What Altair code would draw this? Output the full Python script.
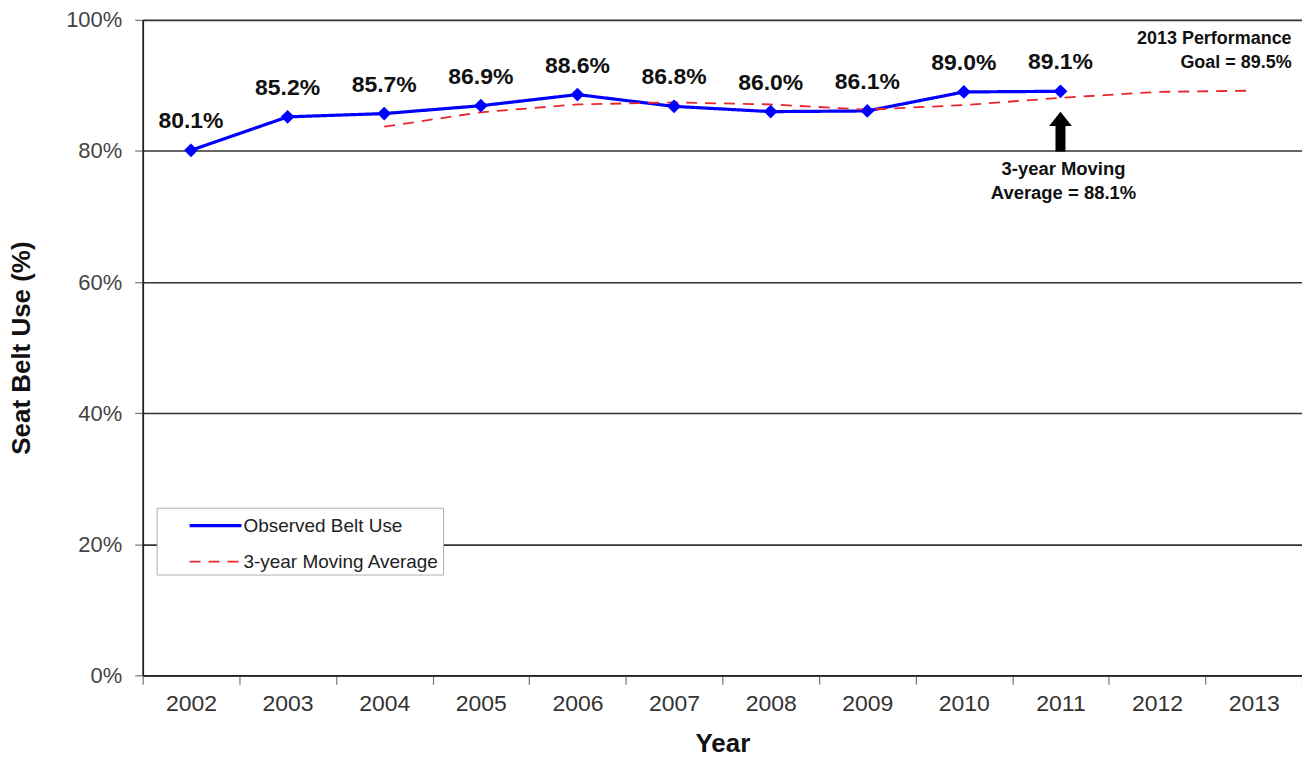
import altair as alt
import pandas as pd

years = ["2002", "2003", "2004", "2005", "2006", "2007", "2008", "2009", "2010", "2011", "2012", "2013"]
obs_years = years[:10]
observed = [80.1, 85.2, 85.7, 86.9, 88.6, 86.8, 86.0, 86.1, 89.0, 89.1]
ma_years = years[2:]
moving_avg = [83.7, 85.9, 87.1, 87.4, 87.1, 86.3, 87.0, 88.1, 89.0, 89.2]
series_names = ["Observed Belt Use", "3-year Moving Average"]
y_ticks = [0, 20, 40, 60, 80, 100]

obs_df = pd.DataFrame({"year": obs_years, "value": observed, "series": series_names[0]})
ma_df = pd.DataFrame({"year": ma_years, "value": moving_avg, "series": series_names[1]})
long_df = pd.concat([obs_df, ma_df], ignore_index=True)

FONT = "Liberation Sans"
BLUE = "#0000FF"
RED = "#E8262E"

x_enc = alt.X("year:O", scale=alt.Scale(type="band", domain=years, paddingInner=0, paddingOuter=0),
              bandPosition=0.5,
              axis=alt.Axis(title="Year", tickBand="extent", labelAngle=0, grid=False,
                            labelFont=FONT, labelFontSize=23, labelColor="#333",
                            labelPadding=8, tickSize=9, tickColor="#777", tickWidth=1.2,
                            domainColor="#222", domainWidth=1.8,
                            titleFont=FONT, titleFontSize=26, titleFontWeight="bold",
                            titleColor="#111", titlePadding=15))
y_scale = alt.Scale(domain=[0, 100], nice=False)
y_enc = alt.Y("value:Q", scale=y_scale,
              axis=alt.Axis(title="Seat Belt Use (%)", values=y_ticks, labelExpr="datum.value + '%'",
                            grid=True, gridColor="#333", gridWidth=1.6,
                            labelFont=FONT, labelFontSize=22, labelColor="#444", labelPadding=13,
                            tickSize=8, tickColor="#777", tickWidth=1.2,
                            domainColor="#222", domainWidth=1.8,
                            titleFont=FONT, titleFontSize=26, titleFontWeight="bold",
                            titleColor="#111", titlePadding=31))

legend_props = dict(orient="none", legendX=14, legendY=489, padding=3, rowPadding=12,
                    symbolType="M-2,0H2", symbolSize=676, symbolOffset=41, symbolStrokeWidth=2.5,
                    labelOffset=13, labelFont=FONT, labelFontSize=19, labelLimit=400,
                    labelColor="#222", strokeColor="#b0b0b0", fillColor="white", title=None)

base = alt.Chart(long_df)

lines = base.mark_line().encode(
    x=x_enc, y=y_enc,
    color=alt.Color("series:N", scale=alt.Scale(domain=series_names, range=[BLUE, RED]),
                    title=None, legend=alt.Legend(**legend_props)),
    strokeDash=alt.StrokeDash("series:N", scale=alt.Scale(domain=series_names, range=[[1, 0], [11, 8]]),
                              title=None, legend=alt.Legend(**legend_props)),
    strokeWidth=alt.StrokeWidth("series:N", scale=alt.Scale(domain=series_names, range=[3.2, 1.8]), legend=None),
)

points = alt.Chart(obs_df).mark_point(shape="diamond", filled=True, size=190, color=BLUE, opacity=1).encode(
    x=alt.X("year:O", bandPosition=0.5), y="value:Q")

labels = alt.Chart(obs_df).transform_calculate(
    label="format(datum.value, '.1f') + '%'"
).mark_text(font=FONT, fontSize=23, fontWeight="bold", color="#111", dy=-29).encode(
    x=alt.X("year:O", bandPosition=0.5), y="value:Q", text="label:N")

# arrow annotation
arrow_year = ["2011"]
arrow_df = pd.DataFrame({"year": arrow_year, "y0": [79.9], "y1": [84.0], "yh": [84.9]})
shaft = alt.Chart(arrow_df).mark_rule(color="black", strokeWidth=10, strokeCap="butt").encode(
    x=alt.X("year:O", bandPosition=0.5), y="y0:Q", y2="y1:Q")
head = alt.Chart(arrow_df).mark_point(shape="M-1,0.62L1,0.62L0,-0.62Z", filled=True, size=520,
                                      color="black", opacity=1).encode(
    x=alt.X("year:O", bandPosition=0.5), y="yh:Q")

note_ma_df = pd.DataFrame({"year": ["2011"], "y": [77.3], "text": [["3-year Moving", "Average = 88.1%"]]})
note_goal_df = pd.DataFrame({"year": ["2013"], "y": [97.1], "text": [["2013 Performance", "Goal = 89.5%"]]})
note_ma = alt.Chart(note_ma_df).mark_text(font=FONT, fontSize=18.5, fontWeight="bold", color="#111",
                                          lineHeight=24, baseline="middle", align="center", dx=3).encode(
    x=alt.X("year:O", bandPosition=0.5), y="y:Q", text="text")
note_goal = alt.Chart(note_goal_df).mark_text(font=FONT, fontSize=18, fontWeight="bold", color="#111",
                                              lineHeight=24, baseline="middle", align="right", dx=38).encode(
    x=alt.X("year:O", bandPosition=0.5), y="y:Q", text="text")

chart = alt.layer(lines, points, labels, shaft, head, note_ma, note_goal).properties(
    width=1162, height=657,
    autosize=alt.AutoSizeParams(type="none"),
    padding={"left": 135, "top": 11, "right": 0, "bottom": 86},
).configure_view(stroke="#555", strokeWidth=1.6).configure(background="white")

chart.save("out.html", embed_options={"renderer": "svg", "actions": False})
